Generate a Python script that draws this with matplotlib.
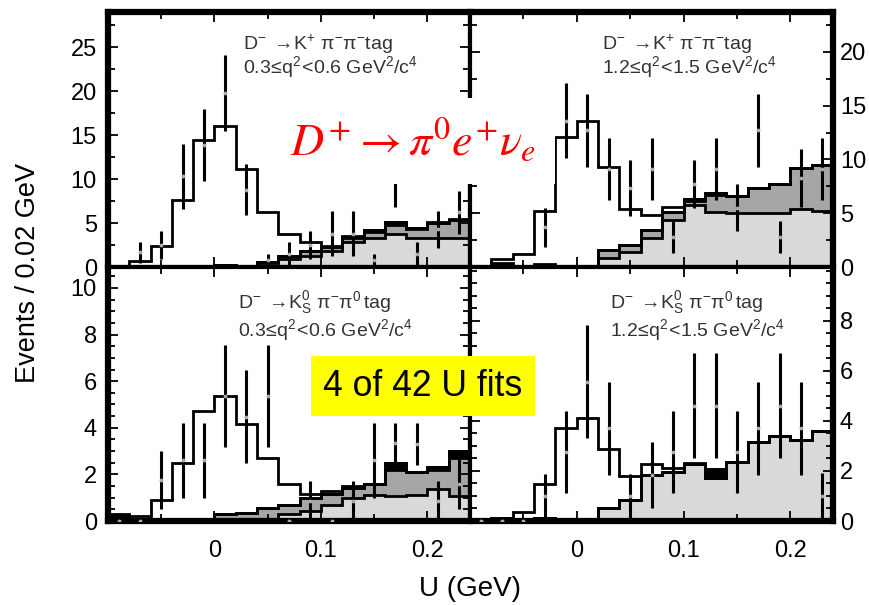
import matplotlib
matplotlib.use("Agg")
import matplotlib.pyplot as plt
import numpy as np
from matplotlib.ticker import MultipleLocator

plt.rcParams["font.family"] = ["Liberation Sans", "DejaVu Sans"]
plt.rcParams["mathtext.fontset"] = "custom"
plt.rcParams["mathtext.rm"] = "Liberation Sans"
plt.rcParams["mathtext.it"] = "Liberation Sans:italic"
plt.rcParams["mathtext.bf"] = "Liberation Sans:bold"
plt.rcParams["mathtext.sf"] = "Liberation Sans"

# U bins of 0.02 GeV from -0.10 to 0.24
edges = np.round(np.arange(-0.10, 0.2401, 0.02), 3)

# top-left: K+ pi- pi- tag, 0.3 <= q2 < 0.6
tl_light = [0, 0, 0, 0, 0.1, 0.2, 0.1, 0.45, 0.9, 1.3, 1.8, 2.8, 3.3, 3.7, 3.3, 3.3, 3.3]
tl_dark = [0, 0, 0, 0, 0, 0, 0, 0.1, 0.3, 0.5, 0.45, 0.5, 0.65, 1.1, 1.0, 1.7, 2.1]
tl_black = [0, 0, 0, 0, 0, 0, 0, 0, 0, 0, 0, 0.15, 0.3, 0.3, 0.15, 0, 0]
tl_total = [0.1, 0.65, 2.36, 7.6, 14.4, 16.0, 11.2, 6.2, 3.7, 2.8, 2.36, 3.5, 4.26, 5.1, 4.45, 5.1, 5.5]
tl_data = [0, 1.7, 2.5, 10.3, 13.9, 19.8, 8.8, 0.75, 1.5, 2.5, 3.8, 3.8, 0.75, 10.0, 1.5, 4.3, 6.2]
tl_err = [0, 1.2, 1.6, 3.7, 4.1, 4.3, 2.9, 0.7, 1.4, 1.6, 2.6, 2.6, 0.7, 3.2, 1.4, 2.1, 2.5]

# top-right: K+ pi- pi- tag, 1.2 <= q2 < 1.5
tr_light = [0, 0, 0, 0, 0, 0, 0.8, 1.4, 2.7, 4.4, 5.8, 5.1, 5.0, 5.0, 5.0, 5.4, 5.2]
tr_dark = [0, 0, 0, 0, 0, 0, 0.8, 0.6, 0.7, 0.7, 0.3, 1.55, 1.6, 2.3, 2.7, 3.8, 4.3]
tr_black = [0, 0.4, 0, 0.25, 0, 0, 0, 0, 0, 0, 0.2, 0.2, 0, 0, 0, 0, 0]
tr_total = [0.05, 0.7, 1.2, 5.2, 12.1, 13.6, 9.3, 5.4, 4.8, 5.6, 6.3, 6.85, 6.6, 7.3, 7.7, 9.2, 9.5]
tr_data = [0, 0, 0, 3.7, 13.6, 12.7, 9.1, 7.3, 9.1, 2.8, 7.7, 9.1, 5.5, 12.7, 2.8, 8.3, 9.1]
tr_err = [0, 0, 0, 1.8, 3.5, 3.4, 2.9, 2.6, 2.9, 1.5, 2.2, 2.9, 2.2, 3.4, 1.5, 2.7, 2.9]

# bottom-left: Ks pi- pi0 tag, 0.3 <= q2 < 0.6
bl_light = [0, 0, 0, 0, 0, 0, 0, 0.1, 0.3, 0.43, 0.7, 1.0, 1.1, 1.07, 1.1, 1.36, 1.07]
bl_dark = [0, 0, 0, 0, 0, 0.3, 0.36, 0.47, 0.4, 0.57, 0.44, 0.43, 0.5, 1.13, 1.0, 0.84, 1.63]
bl_black = [0.25, 0, 0, 0, 0, 0, 0, 0, 0, 0, 0, 0, 0, 0.3, 0, 0.1, 0.3]
bl_total = [0.3, 0.2, 0.9, 2.5, 4.7, 5.36, 4.15, 2.7, 1.6, 1.14, 1.29, 1.5, 1.6, 2.5, 2.1, 2.3, 3.0]
bl_data = [0, 0, 1.75, 2.6, 2.6, 5.36, 4.47, 5.36, 0, 0.86, 0, 0.86, 2.6, 3.35, 3.3, 0.86, 1.57]
bl_err = [0, 0, 1.25, 1.6, 1.6, 2.2, 2.0, 2.2, 0, 0.86, 0, 0.86, 1.6, 0.85, 0.9, 0.86, 1.07]

# bottom-right: Ks pi- pi0 tag, 1.2 <= q2 < 1.5
br_light = [0, 0, 0, 0.1, 0, 0, 0.5, 0.84, 1.84, 1.97, 2.27, 1.73, 2.37, 3.17, 3.4, 3.24, 3.6]
br_dark = [0] * 17
br_black = [0, 0.13, 0, 0, 0, 0, 0, 0, 0, 0, 0, 0.34, 0, 0, 0, 0, 0]
br_total = [0, 0.13, 0.35, 1.47, 3.7, 4.1, 2.87, 1.8, 2.27, 2.1, 2.3, 2.07, 2.37, 3.17, 3.4, 3.24, 3.6]
br_data = [0, 0, 0, 1.0, 2.76, 5.57, 3.7, 1.0, 1.84, 2.76, 4.6, 4.6, 2.76, 3.7, 4.6, 3.7, 1.0]
br_err = [0, 0, 0, 0.88, 1.65, 2.27, 1.87, 0.87, 1.33, 1.65, 2.1, 2.1, 1.65, 1.87, 2.1, 1.87, 0.9]

tag_kpipi = r"$\mathrm{D^{-}\;\rightarrow\!K^{+}\ \pi^{-}\pi^{-}tag}$"
tag_kspipi0 = r"$\mathrm{D^{-}\;\rightarrow\!K^{0}_{S}\ \pi^{-}\pi^{0}\,tag}$"
q2_low = r"$\mathrm{0.3\!\leq\! q^{2}\!<\!0.6\ GeV^{2}/c^{4}}$"
q2_high = r"$\mathrm{1.2\!\leq\! q^{2}\!<\!1.5\ GeV^{2}/c^{4}}$"

W, H = 869, 605


def px(x, y):
    return x / W, 1 - y / H


def draw_panel(ax, light, dark, black, total, data, err):
    light = np.asarray(light, float)
    b2 = light + np.asarray(dark, float)
    b3 = b2 + np.asarray(black, float)
    centers = 0.5 * (edges[:-1] + edges[1:])
    ax.stairs(light, edges, baseline=0, fill=True, color="#d9d9d9", lw=0)
    ax.stairs(b2, edges, baseline=light, fill=True, color="#a6a6a6", lw=0)
    ax.stairs(b3, edges, baseline=b2, fill=True, color="black", lw=0)
    for top in (light, b2, b3, total):
        ax.stairs(top, edges, baseline=None, color="black", lw=2)
    ax.errorbar(centers, data, yerr=err, fmt="o", ms=1.8, color="black",
                mfc="#aaaaaa", mec="#aaaaaa", elinewidth=2.2, capsize=0, zorder=4)


fig = plt.figure(figsize=(W / 100, H / 100), dpi=100)
left, mid, right = 108, 470, 833
top, hmid, bottom = 12, 267, 521

panels = [
    (left, mid, top, hmid, tl_light, tl_dark, tl_black, tl_total, tl_data, tl_err, 29.0, 5, 2.5),
    (mid, right, top, hmid, tr_light, tr_dark, tr_black, tr_total, tr_data, tr_err, 23.7, 5, 2.5),
    (left, mid, hmid, bottom, bl_light, bl_dark, bl_black, bl_total, bl_data, bl_err, 10.9, 2, 0.5),
    (mid, right, hmid, bottom, br_light, br_dark, br_black, br_total, br_data, br_err, 10.15, 2, 0.5),
]

axes = []
for i, (x0, x1, y0, y1, lt, dk, bk, tot, dat, er, ymax, maj, mnr) in enumerate(panels):
    ax = fig.add_axes([x0 / W, 1 - y1 / H, (x1 - x0) / W, (y1 - y0) / H])
    draw_panel(ax, lt, dk, bk, tot, dat, er)
    ax.set_xlim(-0.1, 0.24)
    ax.set_ylim(0, ymax)
    ax.xaxis.set_major_locator(MultipleLocator(0.1))
    ax.xaxis.set_minor_locator(MultipleLocator(0.05))
    ax.yaxis.set_major_locator(MultipleLocator(maj))
    ax.yaxis.set_minor_locator(MultipleLocator(mnr))
    is_left = i % 2 == 0
    is_bottom = i >= 2
    ax.tick_params(which="both", direction="in", top=True, bottom=True, left=True, right=True,
                   labelleft=is_left, labelright=not is_left, labelbottom=is_bottom,
                   labelsize=17, width=1.3)
    ax.tick_params(which="major", length=7)
    ax.tick_params(which="minor", length=5)
    ax.tick_params(axis="y", which="major", pad=8 if is_left else 5)
    ax.tick_params(axis="x", which="major", pad=14)
    ax.xaxis.set_major_formatter(plt.FuncFormatter(lambda v, p: "0" if abs(v) < 1e-9 else f"{v:.1f}"))
    ax.yaxis.set_major_formatter(plt.FuncFormatter(lambda v, p: f"{v:g}"))
    if i == 3:
        ax.set_yticks([0, 2, 4, 6, 8])
    for side, sp in ax.spines.items():
        outer = (side == "left" and is_left) or (side == "right" and not is_left) \
            or (side == "top" and not is_bottom) or (side == "bottom" and is_bottom)
        sp.set_linewidth(4.5 if outer else 3)
    axes.append(ax)

# x tick labels only at 0, 0.1, 0.2
for ax in axes[2:]:
    ax.set_xticks([0, 0.1, 0.2])
    ax.xaxis.set_minor_locator(MultipleLocator(0.05))

label_color = "#333333"
for (x, y1, y2, l1, l2) in [
    (243, 50, 73, tag_kpipi, q2_low),
    (602, 50, 73, tag_kpipi, q2_high),
    (238, 308, 336, tag_kspipi0, q2_low),
    (610, 308, 336, tag_kspipi0, q2_high),
]:
    fig.text(*px(x, y1), l1, fontsize=14, color=label_color, va="baseline", ha="left")
    fig.text(*px(x, y2), l2, fontsize=14, color=label_color, va="baseline", ha="left")

fig.text(*px(28, 273), "Events / 0.02 GeV", rotation=90, fontsize=19.5, ha="center", va="center")
fig.text(*px(470, 589), "U (GeV)", fontsize=20, ha="center", va="center")

fig.text(*px(290, 155), r"$D^{+}\rightarrow\pi^{0}e^{+}\nu_{e}$", math_fontfamily="stix",
         fontsize=33, color="red", ha="left", va="baseline", zorder=10,
         bbox=dict(facecolor="white", edgecolor="none", pad=14))

fig.text(*px(423, 386), "4 of 42 U fits", fontsize=25.6, color="black", ha="center", va="center",
         zorder=10, bbox=dict(facecolor="#ffff00", edgecolor="none", boxstyle="square,pad=0.35"))

fig.savefig("out.png", dpi=100)
